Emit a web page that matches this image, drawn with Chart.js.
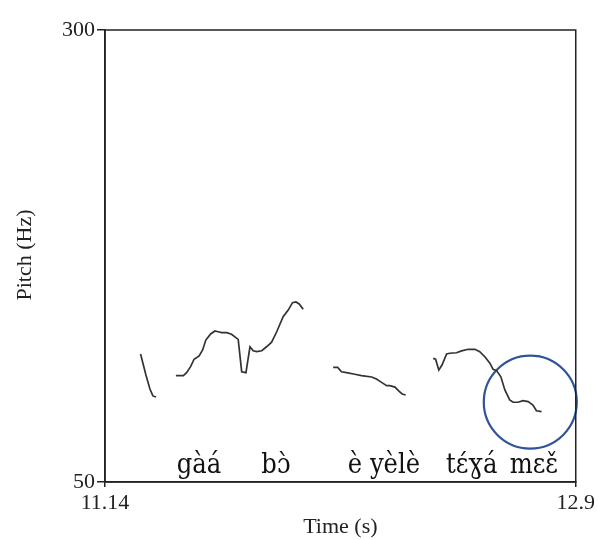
<!DOCTYPE html>
<html>
<head>
<meta charset="utf-8">
<script src="https://cdn.jsdelivr.net/npm/chart.js@4/dist/chart.umd.min.js"></script>
<style>
html,body{margin:0;padding:0;background:#fff;}
canvas{display:block;}
</style>
</head>
<body>
<canvas id="c" width="598" height="540"></canvas>
<script>
// ---- data (time in s, pitch in Hz) ----
const seg1T = [11.273, 11.293, 11.308, 11.319, 11.331];
const seg1F = [120.8, 109.2, 101.4, 97.6, 97.0];

const seg2T = [11.405, 11.433, 11.445, 11.460, 11.473, 11.492, 11.505, 11.517, 11.535, 11.551, 11.563, 11.576, 11.595, 11.613, 11.638, 11.651, 11.667, 11.682, 11.694, 11.707, 11.726, 11.744, 11.763, 11.782, 11.806, 11.825, 11.841, 11.854, 11.866, 11.881];
const seg2F = [108.8, 108.8, 110.5, 113.8, 117.9, 119.7, 123.0, 128.5, 131.9, 133.5, 133.1, 132.6, 132.6, 131.7, 128.9, 111.0, 110.5, 124.8, 122.6, 122.1, 122.6, 124.8, 127.3, 133.1, 141.4, 145.1, 149.2, 149.6, 148.5, 145.5];

const seg3T = [11.993, 12.010, 12.024, 12.043, 12.074, 12.099, 12.137, 12.155, 12.174, 12.193, 12.205, 12.224, 12.239, 12.251, 12.264];
const seg3F = [113.4, 113.4, 111.0, 110.5, 109.6, 108.8, 108.1, 107.0, 105.1, 103.3, 103.3, 102.5, 100.3, 98.7, 98.1];

const seg4T = [12.367, 12.376, 12.388, 12.400, 12.417, 12.429, 12.454, 12.473, 12.498, 12.523, 12.541, 12.560, 12.579, 12.591, 12.604, 12.620, 12.635, 12.653, 12.666, 12.684, 12.703, 12.722, 12.740, 12.753, 12.772];
const seg4F = [118.4, 117.9, 111.9, 114.7, 120.8, 121.2, 121.5, 122.5, 123.4, 123.4, 122.1, 119.3, 115.7, 112.3, 111.6, 108.2, 100.9, 95.4, 94.1, 94.1, 95.0, 94.5, 92.6, 89.4, 88.9];

const circleT = [12.730];
const circleF = [94.2];

const words = ['gàá', 'bɔ̀', 'è yèlè', 'tɛ́ɣá', 'mɛɛ̌'];
const wordTimes = [11.491, 11.779, 12.183, 12.511, 12.743];

const xTickVals = [11.14, 12.9];
const xTickLabels = ['11.14', '12.9'];
const yTickVals = [50, 300];
const yTickLabels = ['50', '300'];
const xTitle = 'Time (s)';
const yTitle = 'Pitch (Hz)';

// ---- build ----
const pts = (t, f) => t.map((v, i) => ({x: v, y: f[i]}));
const SERIF = "'Liberation Serif', 'Times New Roman', serif";
const WORDFONT = "'DejaVu Serif Condensed', 'DejaVu Serif', serif";
const INK = '#222';

const lineDs = (t, f) => ({
  data: pts(t, f), showLine: true, borderColor: '#333', borderWidth: 1.7,
  pointRadius: 0, tension: 0, fill: false
});

const extras = {
  id: 'extras',
  afterDraw(chart) {
    const ctx = chart.ctx, a = chart.chartArea, xs = chart.scales.x;
    ctx.save();
    // frame
    ctx.strokeStyle = INK; ctx.lineWidth = 1.5;
    ctx.strokeRect(a.left, a.top, a.right - a.left, a.bottom - a.top);
    // word annotations
    ctx.fillStyle = '#111';
    ctx.font = "27px " + WORDFONT;
    ctx.textAlign = 'center'; ctx.textBaseline = 'alphabetic';
    words.forEach((w, i) => ctx.fillText(w, xs.getPixelForValue(wordTimes[i]), a.bottom - 9));
    // axis titles
    ctx.fillStyle = INK;
    ctx.font = "22px " + SERIF;
    ctx.textBaseline = 'middle';
    ctx.fillText(xTitle, (a.left + a.right) / 2, 527);
    ctx.translate(25, 255);
    ctx.rotate(-Math.PI / 2);
    ctx.fillText(yTitle, 0, 0);
    ctx.restore();
  }
};

new Chart(document.getElementById('c'), {
  type: 'scatter',
  data: {
    datasets: [
      lineDs(seg1T, seg1F),
      lineDs(seg2T, seg2F),
      lineDs(seg3T, seg3F),
      lineDs(seg4T, seg4F),
      {
        data: pts(circleT, circleF), showLine: false, pointRadius: 46.5,
        pointBorderColor: '#2F5597', pointBackgroundColor: 'rgba(0,0,0,0)',
        pointBorderWidth: 2.2, clip: false
      }
    ]
  },
  options: {
    responsive: false, animation: false,
    layout: {autoPadding: false, padding: {left: 0, top: 30, right: 22, bottom: 0}},
    plugins: {legend: {display: false}, tooltip: {enabled: false}},
    events: [],
    scales: {
      x: {
        type: 'linear', min: 11.14, max: 12.9,
        afterBuildTicks: s => { s.ticks = xTickVals.map(v => ({value: v})); },
        afterFit: s => { s.height = 58; },
        ticks: {
          autoSkip: false, maxRotation: 0, padding: 3, color: INK,
          font: {family: SERIF, size: 22},
          callback: (v) => xTickLabels[xTickVals.indexOf(v)]
        },
        grid: {display: true, drawOnChartArea: false, drawTicks: true, tickLength: 5, color: INK, lineWidth: 1.5},
        border: {display: true, color: INK, width: 1.5}
      },
      y: {
        type: 'linear', min: 50, max: 300,
        afterBuildTicks: s => { s.ticks = yTickVals.map(v => ({value: v})); },
        afterFit: s => { s.width = 105; },
        ticks: {
          autoSkip: false, padding: 2, color: INK,
          font: {family: SERIF, size: 22},
          callback: (v) => yTickLabels[yTickVals.indexOf(v)]
        },
        grid: {display: true, drawOnChartArea: false, drawTicks: true, tickLength: 8, color: INK, lineWidth: 1.5},
        border: {display: true, color: INK, width: 1.5}
      }
    }
  },
  plugins: [extras]
});
</script>
</body>
</html>
